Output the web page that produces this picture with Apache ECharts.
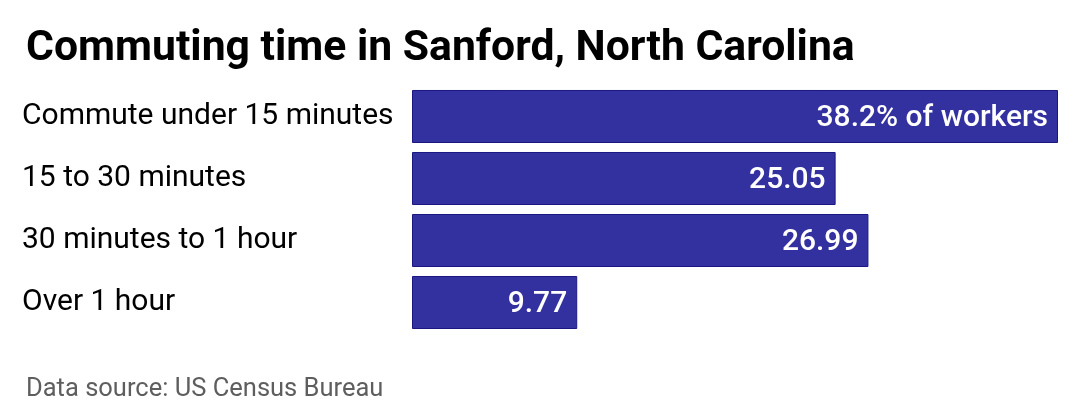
<!DOCTYPE html>
<html>
<head>
<meta charset="utf-8">
<script src="https://cdn.jsdelivr.net/npm/echarts@6/dist/echarts.min.js"></script>
<style>
  html, body { margin: 0; padding: 0; background: #fff; }
  #chart { width: 1080px; height: 420px; }
</style>
</head>
<body>
<div id="chart"></div>
<script>
// commute buckets, top to bottom
var categories = ['Commute under 15 minutes', '15 to 30 minutes', '30 minutes to 1 hour', 'Over 1 hour'];
var shares = [38.2, 25.05, 26.99, 9.77];

var chart = echarts.init(document.getElementById('chart'));

chart.setOption({
    backgroundColor: '#ffffff',
    textStyle: { fontFamily: 'Roboto, sans-serif' },
    title: [
        {
            text: 'Commuting time in Sanford, North Carolina',
            left: 21, top: 23,
            textStyle: { fontSize: 42.7, fontWeight: 'bold', color: '#000' }
        },
        {
            text: 'Data source: US Census Bureau',
            left: 21, top: 372,
            textStyle: { fontSize: 25.5, fontWeight: 'normal', color: '#5e5e5e' }
        }
    ],
    grid: { left: 412, right: 22, top: 85.5, height: 248 },
    xAxis: {
        type: 'value', min: 0, max: 38.2,
        show: false
    },
    yAxis: {
        type: 'category',
        inverse: true,
        data: categories,
        axisLine: { show: false },
        axisTick: { show: false },
        axisLabel: {
            align: 'left', margin: 390,
            padding: [8, 0, 0, 0],
            fontSize: 30, color: '#000'
        }
    },
    series: [{
        type: 'bar',
        data: shares,
        barCategoryGap: '14.5%',
        itemStyle: { color: '#3330a0', borderColor: '#1a1880', borderWidth: 1 },
        label: {
            show: true, position: 'insideRight', distance: 10,
            offset: [0, 2],
            fontSize: 30, fontWeight: 500, color: '#fff',
            formatter: function (p) {
                return p.dataIndex === 0 ? p.value + '% of workers' : p.value;
            }
        }
    }],
    animation: false
});
</script>
</body>
</html>
